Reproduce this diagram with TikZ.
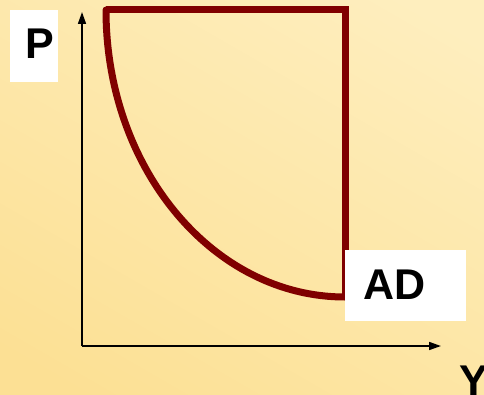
\documentclass[tikz,border=0pt]{standalone}
\usepackage{fontspec}
\setmainfont{Liberation Sans}
\usetikzlibrary{arrows.meta}
\definecolor{bglight}{RGB}{254,238,190}
\definecolor{bgdark}{RGB}{252,224,148}
\definecolor{curvered}{RGB}{128,0,0}
\tikzset{
  axis/.style={line width=1.6pt, -{Triangle[length=12pt,width=8pt]}},
  adline/.style={draw=curvered, line width=7pt},
  labelbox/.style={fill=white, draw=none},
  bigtext/.style={inner sep=0pt, font=\fontsize{43}{50}\selectfont\bfseries}
}
\begin{document}
\begin{tikzpicture}[x=1pt,y=1pt]
\useasboundingbox (0,0) rectangle (484,394);
\shade[top color=bglight, bottom color=bgdark, shading angle=-30] (-40,-40) rectangle (524,434);
% axes
\coordinate (O) at (82,48);
\coordinate (ytip) at (82,382);
\coordinate (xtip) at (441,48);
\draw[axis] (O) -- (ytip);
\draw[axis] (O) -- (xtip);
% AD shape
\coordinate (tl) at (106,384);
\coordinate (tr) at (345,384);
\coordinate (br) at (345,97);
\draw[adline, line join=miter] (tl) -- (tr) -- (br);
\draw[adline, line cap=round] (tl) arc[start angle=180, end angle=270, x radius=239, y radius=287];
% labels
\node[labelbox, minimum width=48pt, minimum height=72pt, anchor=south west] (pbox) at (10,312) {};
\node[bigtext, anchor=base west] (ptext) at (25.7,335) {P};
\node[labelbox, minimum width=121pt, minimum height=71pt, anchor=south west] (adbox) at (345,73) {};
\node[bigtext, anchor=base west] (adtext) at (363,95) {AD};
\node[bigtext, anchor=base west] (ytext) at (459,-1) {Y};
\end{tikzpicture}
\end{document}
